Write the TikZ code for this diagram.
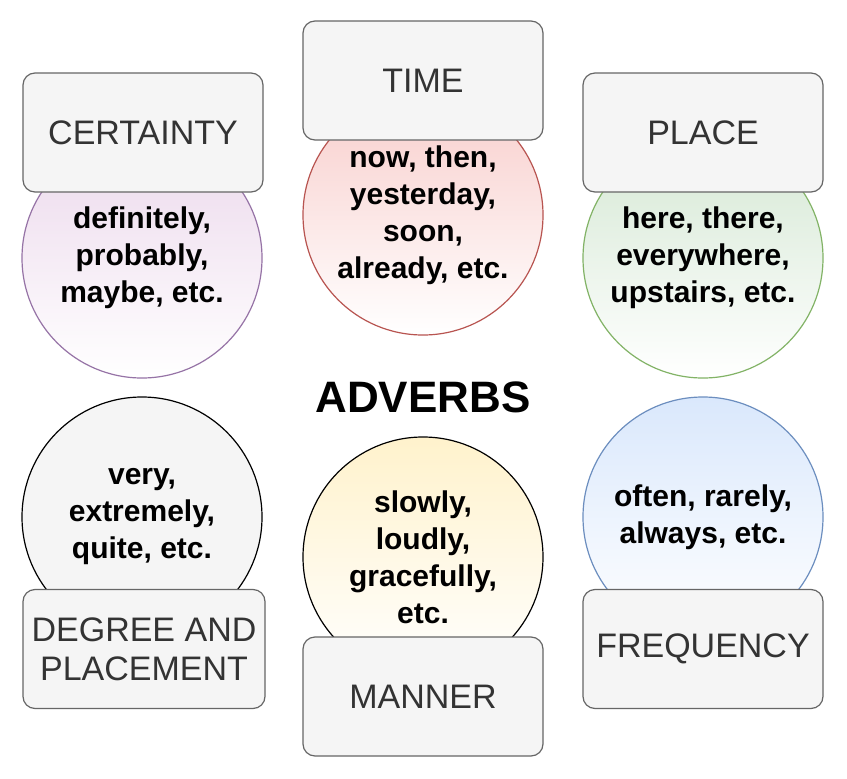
\documentclass[tikz,border=0pt]{standalone}
\usepackage{fontspec}
\setmainfont{Liberation Sans}
\begin{document}
\begin{tikzpicture}[x=1pt,y=-1pt,
 circ/.style={circle,minimum size=240pt,inner sep=0pt,line width=1.2pt,bottom color=white,align=center,font=\fontsize{30}{37}\selectfont\bfseries},
 lbl/.style={draw=black!60,fill=black!4,rounded corners=12pt,line width=1.2pt,minimum width=240pt,minimum height=119pt,align=center,text=black!80,font=\fontsize{34}{39}\selectfont}]
\useasboundingbox (0,0) rectangle (847,779);
\fill[white] (0,0) rectangle (847,779);
\node[circ,top color=violet!15,draw={rgb,255:red,150;green,115;blue,166}] (c1) at (142,258) {definitely,\\probably,\\maybe, etc.};
\node[circ,top color={rgb,255:red,248;green,206;blue,204},draw={rgb,255:red,184;green,84;blue,80}] (c2) at (423,215) {now, then,\\yesterday,\\soon,\\already, etc.};
\node[circ,top color={rgb,255:red,213;green,232;blue,212},draw={rgb,255:red,130;green,179;blue,102}] (c3) at (703,258) {here, there,\\everywhere,\\upstairs, etc.};
\node[circ,top color=black!4,bottom color=black!4,draw=black] (c4) at (142,517) {very,\\extremely,\\quite, etc.};
\node[circ,top color={rgb,255:red,255;green,242;blue,204},draw=black] (c5) at (423,557) {slowly,\\loudly,\\gracefully,\\etc.};
\node[circ,top color={rgb,255:red,218;green,232;blue,252},draw={rgb,255:red,108;green,142;blue,191}] (c6) at (703,517) {often, rarely,\\always, etc.};
\node[lbl] (b1) at (143,132.5) {CERTAINTY};
\node[lbl] (b2) at (423,80.5) {TIME};
\node[lbl] (b3) at (703,132.5) {PLACE};
\node[lbl,minimum width=242pt] (b4) at (144,649) {DEGREE AND\\PLACEMENT};
\node[lbl] (b5) at (423,696.5) {MANNER};
\node[lbl] (b6) at (703,649) {FREQUENCY};
\node[font=\fontsize{44}{44}\selectfont\bfseries] (t) at (423,397) {ADVERBS};
\end{tikzpicture}
\end{document}
